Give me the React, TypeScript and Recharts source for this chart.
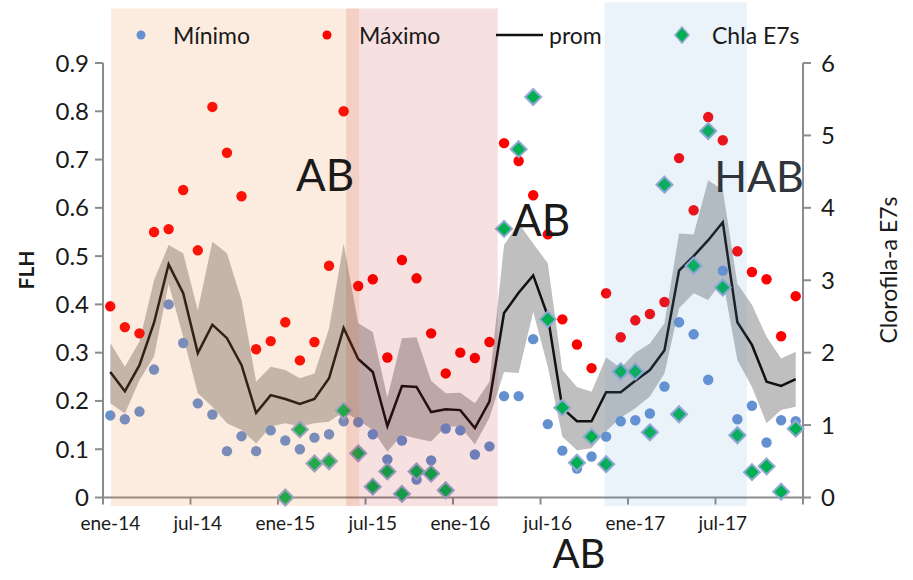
import React from "react";
import {
  ComposedChart,
  Area,
  Line,
  Scatter,
  XAxis,
  YAxis,
  ReferenceArea,
} from "recharts";

// monthly series, ene-14 .. dic-17
const monthTicks = ["ene-14", "jul-14", "ene-15", "jul-15", "ene-16", "jul-16", "ene-17", "jul-17"];

const minimo = [
  0.17, 0.162, 0.178, 0.265, 0.4, 0.32, 0.195, 0.172, 0.096, 0.127, 0.096, 0.139,
  0.118, 0.1, 0.124, 0.131, 0.158, 0.156, 0.131, 0.079, 0.118, 0.037, 0.077, 0.143,
  0.139, 0.089, 0.106, 0.21, 0.21, 0.328, 0.152, 0.097, 0.06, 0.085, 0.126, 0.158,
  0.16, 0.174, 0.23, 0.363, 0.338, 0.244, 0.47, 0.162, 0.19, 0.114, 0.16, 0.158,
];

const maximo = [
  0.396, 0.353, 0.34, 0.55, 0.556, 0.637, 0.512, 0.809, 0.714, 0.624, 0.307, 0.324,
  0.363, 0.284, 0.322, 0.48, 0.8, 0.438, 0.452, 0.29, 0.492, 0.454, 0.34, 0.257,
  0.3, 0.289, 0.322, 0.734, 0.697, 0.626, 0.545, 0.369, 0.317, 0.268, 0.423, 0.332,
  0.367, 0.38, 0.405, 0.703, 0.595, 0.788, 0.74, 0.51, 0.467, 0.452, 0.334, 0.417,
];

const prom = [
  0.26, 0.22, 0.274, 0.362, 0.483, 0.423, 0.299, 0.358, 0.33, 0.274, 0.175, 0.212,
  0.204, 0.194, 0.204, 0.247, 0.351, 0.287, 0.26, 0.148, 0.231, 0.229, 0.177, 0.183,
  0.181, 0.144, 0.199, 0.382, 0.424, 0.46, 0.376, 0.185, 0.158, 0.158, 0.218, 0.218,
  0.242, 0.264, 0.305, 0.47, 0.5, 0.533, 0.57, 0.363, 0.316, 0.24, 0.231, 0.245,
];

// shaded spread around prom
const bandLo = [
  0.195, 0.174, 0.243, 0.292, 0.443, 0.333, 0.216, 0.188, 0.154, 0.14, 0.112, 0.147,
  0.154, 0.147, 0.154, 0.157, 0.178, 0.16, 0.14, 0.095, 0.13, 0.122, 0.116, 0.147,
  0.147, 0.11, 0.165, 0.26, 0.258, 0.385, 0.271, 0.126, 0.098, 0.102, 0.137, 0.165,
  0.185, 0.209, 0.257, 0.392, 0.423, 0.409, 0.45, 0.285, 0.229, 0.154, 0.181, 0.188,
];

const bandHi = [
  0.32, 0.271, 0.323, 0.45, 0.523, 0.506, 0.388, 0.53, 0.506, 0.409, 0.24, 0.271,
  0.264, 0.247, 0.257, 0.35, 0.526, 0.361, 0.343, 0.207, 0.33, 0.332, 0.242, 0.216,
  0.217, 0.195, 0.24, 0.523, 0.568, 0.526, 0.485, 0.264, 0.229, 0.219, 0.29, 0.268,
  0.3, 0.319, 0.361, 0.547, 0.545, 0.657, 0.637, 0.443, 0.399, 0.333, 0.288, 0.302,
];

// Chla E7s (right axis), no data before 2015 and in early 2016
const chla: (number | null)[] = [
  null, null, null, null, null, null, null, null, null, null, null, null,
  0.0, 0.94, 0.47, 0.5, 1.2, 0.61, 0.15, 0.36, 0.05, 0.36, 0.33, 0.1,
  null, null, null, 3.71, 4.81, 5.53, 2.46, 1.24, 0.48, 0.84, 0.46, 1.74,
  1.74, 0.9, 4.32, 1.15, 3.2, 5.06, 2.9, 0.86, 0.35, 0.43, 0.08, 0.95,
];

// shaded periods, in month index units
const periodStart = [0.05, 16.17, 33.9];
const periodEnd = [17.07, 26.57, 43.65];
const periodTop = [1.013, 1.013, 1.026];
const periodFill = ["#ED7D31", "#C00000", "#5B9BD5"];
const periodOpacity = [0.15, 0.12, 0.13];

const W = 913;
const H = 580;
const MARGIN = { top: 63, right: 50, bottom: 40, left: 43 };
const AXIS_W = 60;
const PLOT_W = W - MARGIN.left - MARGIN.right - 2 * AXIS_W;
const HALF_MONTH = PLOT_W / minimo.length / 2;

const FONT = "Lato, 'Open Sans', sans-serif";
const AXIS = "#8c8c8c";
const BLUE = "#6590d0";
const RED = "#ff0000";
const GREEN = "#00b050";

const data = minimo.map((v, i) => ({
  idx: i,
  min: v,
  max: maximo[i],
  prom: prom[i],
  band: [bandLo[i], bandHi[i]],
}));

const chlaPts = chla
  .map((v, i) => ({ idx: i, chla: v }))
  .filter((d) => d.chla !== null);

const xTicks = [...monthTicks.map((_, k) => k * 6 - 0.5), minimo.length - 0.5];

function XTick({ x, y, payload }: any) {
  const label = monthTicks[Math.round((payload.value + 0.5) / 6)];
  if (!label) return <g />;
  return (
    <text x={x + HALF_MONTH} y={y} dy="0.71em" textAnchor="middle" fontSize={19} fill="#1a1a1a">
      {label}
    </text>
  );
}

function Dot({ cx, cy, color }: any) {
  return <circle cx={cx} cy={cy} r={5.2} fill={color} />;
}

function Diamond({ cx, cy }: any) {
  const s = 8;
  return (
    <polygon
      points={`${cx},${cy - s} ${cx + s},${cy} ${cx},${cy + s} ${cx - s},${cy}`}
      fill={GREEN}
      stroke="#93a9d6"
      strokeWidth={2}
    />
  );
}

function LegendBox() {
  const txt: React.CSSProperties = { position: "absolute", top: 20, fontSize: 23, lineHeight: "30px" };
  return (
    <>
      <svg style={{ position: "absolute", left: 0, top: 0 }} width={W} height={60}>
        <circle cx={141} cy={35} r={4.5} fill={BLUE} />
        <circle cx={327} cy={35} r={4.5} fill={RED} />
        <line x1={496} x2={543} y1={35} y2={35} stroke="#111" strokeWidth={2.5} />
        <polygon points="682,27 689,35 682,43 675,35" fill={GREEN} stroke="#93a9d6" strokeWidth={1.5} />
      </svg>
      <div style={{ ...txt, left: 173 }}>Mínimo</div>
      <div style={{ ...txt, left: 359 }}>Máximo</div>
      <div style={{ ...txt, left: 549 }}>prom</div>
      <div style={{ ...txt, left: 712 }}>Chla E7s</div>
    </>
  );
}

function Note({ x, y, size, text, color = "#1a1a1a", rotate = 0, bold = false }: any) {
  return (
    <div
      style={{
        position: "absolute",
        left: x,
        top: y,
        transform: `translate(-50%, -50%) rotate(${rotate}deg)`,
        fontSize: size,
        lineHeight: 1,
        whiteSpace: "nowrap",
        color,
        fontWeight: bold ? 700 : 400,
        pointerEvents: "none",
      }}
    >
      {text}
    </div>
  );
}

export default function App() {
  return (
    <div
      style={{
        position: "absolute",
        left: 0,
        top: 0,
        width: W,
        height: H,
        background: "#fff",
        fontFamily: FONT,
        color: "#1a1a1a",
      }}
    >
      <ComposedChart width={W} height={H} data={data} margin={MARGIN}>
        <XAxis
          dataKey="idx"
          type="number"
          domain={[-0.5, minimo.length - 0.5]}
          ticks={xTicks}
          interval={0}
          height={42.5}
          tick={(p: any) => <XTick {...p} />}
          tickSize={7}
          tickMargin={12}
          axisLine={{ stroke: AXIS, strokeWidth: 2 }}
          tickLine={{ stroke: AXIS, strokeWidth: 2 }}
        />
        <YAxis
          yAxisId="left"
          width={AXIS_W}
          domain={[0, 0.9]}
          ticks={[0, 0.1, 0.2, 0.3, 0.4, 0.5, 0.6, 0.7, 0.8, 0.9]}
          tickFormatter={(v: number) => (v === 0 ? "0" : v.toFixed(1))}
          tick={{ fontSize: 24, fill: "#1a1a1a" }}
          tickSize={8}
          tickMargin={6}
          axisLine={{ stroke: AXIS, strokeWidth: 2 }}
          tickLine={{ stroke: AXIS, strokeWidth: 2 }}
        />
        <YAxis
          yAxisId="right"
          orientation="right"
          width={AXIS_W}
          domain={[0, 6]}
          ticks={[0, 1, 2, 3, 4, 5, 6]}
          tick={{ fontSize: 24, fill: "#1a1a1a" }}
          tickSize={8}
          tickMargin={10}
          axisLine={{ stroke: AXIS, strokeWidth: 2 }}
          tickLine={{ stroke: AXIS, strokeWidth: 2 }}
        />
        <Area
          yAxisId="left"
          dataKey="band"
          type="linear"
          stroke="none"
          fill="#bfbfbf"
          fillOpacity={1}
          isAnimationActive={false}
        />
        <Line
          yAxisId="left"
          dataKey="prom"
          type="linear"
          stroke="#111"
          strokeWidth={2.5}
          dot={false}
          isAnimationActive={false}
        />
        <Scatter
          yAxisId="left"
          dataKey="min"
          shape={(p: any) => <Dot {...p} color={BLUE} />}
          isAnimationActive={false}
        />
        <Scatter
          yAxisId="left"
          dataKey="max"
          shape={(p: any) => <Dot {...p} color={RED} />}
          isAnimationActive={false}
        />
        <Scatter
          yAxisId="right"
          data={chlaPts}
          dataKey="chla"
          shape={(p: any) => <Diamond {...p} />}
          isAnimationActive={false}
        />
        {periodStart.map((x1, k) => (
          <ReferenceArea
            key={k}
            yAxisId="left"
            x1={x1}
            x2={periodEnd[k]}
            y1={-0.0176}
            y2={periodTop[k]}
            fill={periodFill[k]}
            fillOpacity={periodOpacity[k]}
            stroke="none"
            ifOverflow="visible"
            zIndex={1500}
          />
        ))}
      </ComposedChart>
      <LegendBox />
      <Note x={325} y={174} size={44} text="AB" />
      <Note x={541} y={219} size={44} text="AB" />
      <Note x={759} y={175} size={43} text="HAB" color="#30353b" />
      <Note x={579} y={553} size={40} text="AB" />
      <Note x={25} y={270} size={21} text="FLH" rotate={-90} bold />
      <Note x={888} y={270} size={23} text="Clorofila-a E7s" rotate={-90} />
    </div>
  );
}
